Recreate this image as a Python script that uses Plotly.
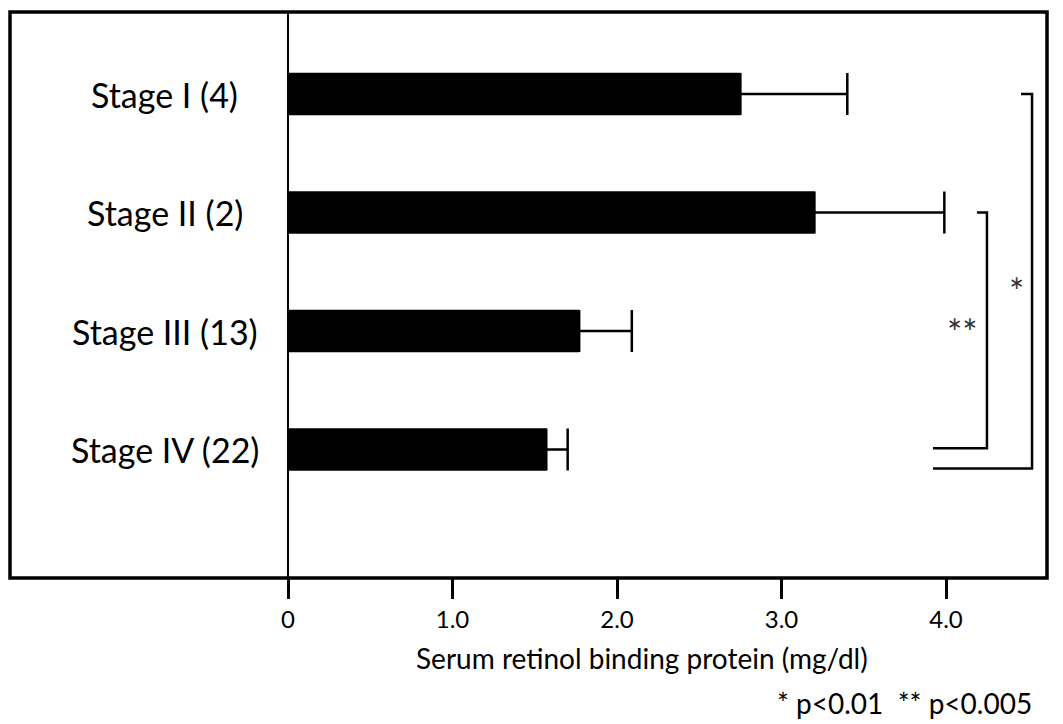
import plotly.graph_objects as go

categories = ["Stage I (4)", "Stage II (2)", "Stage III (13)", "Stage IV (22)"]
means = [2.75, 3.20, 1.77, 1.57]
sd = [0.65, 0.79, 0.32, 0.13]
tick_vals = [0, 1, 2, 3, 4]
tick_text = ["0", "1.0", "2.0", "3.0", "4.0"]
x_title = "Serum retinol binding protein (mg/dl)"
footnote = "* p<0.01  ** p<0.005"

# significance brackets
brackets = [
    {"top": 0.0, "bottom": 3.16, "xv": 4.523, "xtop": 4.456, "xbot": 3.921, "label": "*", "lx": 4.43, "ly": 1.66},
    {"top": 1.0, "bottom": 2.99, "xv": 4.249, "xtop": 4.188, "xbot": 3.921, "label": "**", "lx": 4.10, "ly": 2.01},
]

FONT = "Lato, 'Open Sans', sans-serif"

fig = go.Figure()
fig.add_trace(go.Bar(
    x=means, y=categories, orientation="h",
    marker=dict(color="black", line=dict(width=0)),
    width=0.36,
    error_x=dict(type="data", array=sd, arrayminus=[0] * len(sd), symmetric=False,
                 color="black", thickness=2.5, width=21),
    showlegend=False,
))

shapes = []
for b in brackets:
    path = (f"M {b['xtop']},{b['top']} L {b['xv']},{b['top']} "
            f"L {b['xv']},{b['bottom']} L {b['xbot']},{b['bottom']}")
    shapes.append(dict(type="path", path=path, xref="x", yref="y",
                       line=dict(color="black", width=2.5)))
shapes.append(dict(type="rect", xref="paper", yref="paper", x0=0, x1=1, y0=0, y1=1,
                   line=dict(color="black", width=3.5), layer="above"))

annotations = []
for c in categories:
    annotations.append(dict(x=-0.75, y=c, xref="x", yref="y", text=c, showarrow=False,
                            xanchor="center", yanchor="middle",
                            font=dict(family=FONT, size=34, color="black")))
for b in brackets:
    annotations.append(dict(x=b["lx"], y=b["ly"], xref="x", yref="y", text=b["label"],
                            showarrow=False, font=dict(family=FONT, size=36, color="#333")))
annotations.append(dict(x=2.15, y=-0.1413, xref="x", yref="paper", text=x_title, showarrow=False,
                        xanchor="center", yanchor="middle",
                        font=dict(family=FONT, size=28, color="black")))
annotations.append(dict(x=0.9875, y=-0.2208, xref="paper", yref="paper", text=footnote, showarrow=False,
                        xanchor="right", yanchor="middle",
                        font=dict(family=FONT, size=28, color="black")))

fig.update_layout(
    width=1055, height=716,
    margin=dict(l=2, r=16, t=4, b=146),
    plot_bgcolor="white", paper_bgcolor="white",
    shapes=shapes, annotations=annotations,
    xaxis=dict(range=[-1.690, 4.614], tickvals=tick_vals, ticktext=tick_text,
               ticks="outside", ticklen=20, tickwidth=3, tickcolor="black",
               showgrid=False, zeroline=True, zerolinecolor="black", zerolinewidth=1.5,
               showline=False, tickfont=dict(family=FONT, size=24, color="black")),
    yaxis=dict(categoryorder="array", categoryarray=categories, range=[4.084, -0.692],
               showticklabels=False, showgrid=False, zeroline=False, ticks=""),
)

fig.write_html("out.html")
